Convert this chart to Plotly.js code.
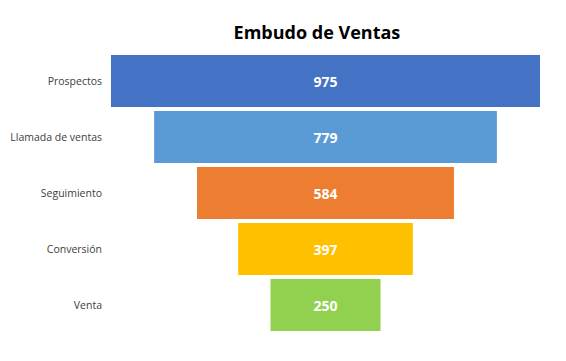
<!DOCTYPE html>
<html>
<head>
<meta charset="utf-8">
<script src="https://cdn.plot.ly/plotly-3.0.1.min.js"></script>
<style>html,body{margin:0;padding:0;background:#fff}#chart{width:566px;height:361px}</style>
</head>
<body>
<div id="chart"></div>
<script>
const stages = ["Prospectos", "Llamada de ventas", "Seguimiento", "Conversión", "Venta"];
const values = [975, 779, 584, 397, 250];
const colors = ["#4472C4", "#5B9BD5", "#ED7D31", "#FFC000", "#92D050"];

const trace = {
  type: "funnel",
  y: stages,
  x: values,
  marker: {color: colors, line: {width: 0}},
  connector: {visible: false},
  textinfo: "value",
  textposition: "inside",
  insidetextanchor: "middle",
  textfont: {family: "Open Sans, Lato, sans-serif", size: 14, color: "#ffffff", weight: "bold"},
  hoverinfo: "y+x"
};

const layout = {
  width: 566, height: 361,
  margin: {l: 111, r: 26, t: 53, b: 28},
  paper_bgcolor: "#ffffff", plot_bgcolor: "#ffffff",
  title: {text: "<b>Embudo de Ventas</b>", x: 0.56, xanchor: "center", y: 0.91, yanchor: "middle",
    font: {family: "Open Sans, Lato, sans-serif", size: 18, color: "#000000"}},
  showlegend: false,
  funnelgap: 0.07,
  xaxis: {visible: false, range: [-487.5, 487.5], fixedrange: true},
  yaxis: {showgrid: false, zeroline: false, showline: false, ticks: "", ticklabelstandoff: 8,
    tickfont: {family: "Open Sans, Lato, sans-serif", size: 10.5, color: "#404040"}, autorange: "reversed"},
  font: {family: "Open Sans, Lato, sans-serif"}
};

Plotly.newPlot("chart", [trace], layout, {displayModeBar: false, staticPlot: true});
</script>
</body>
</html>
